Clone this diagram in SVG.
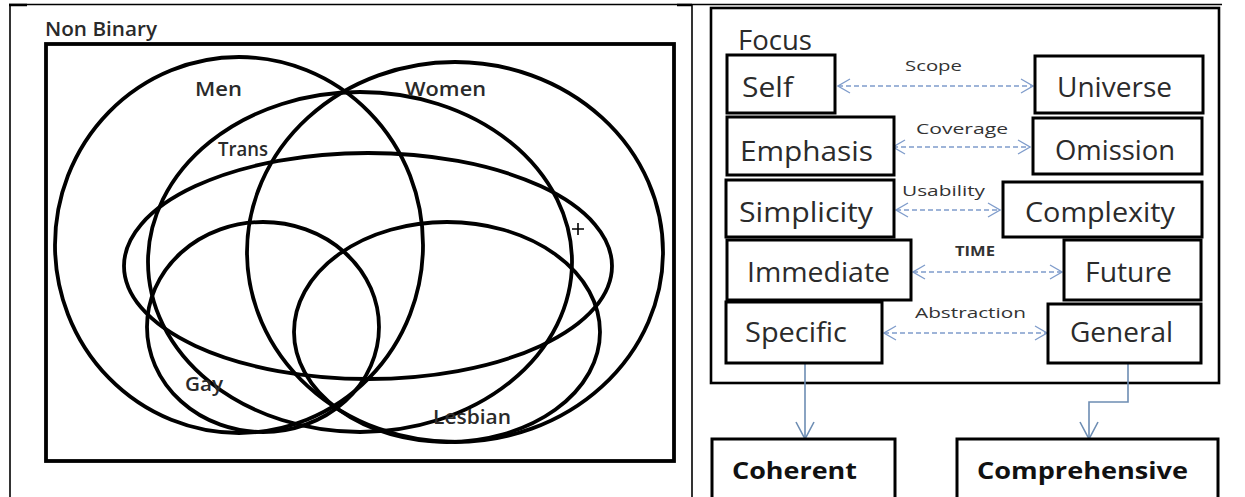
<svg xmlns="http://www.w3.org/2000/svg" width="1245" height="497" viewBox="0 0 1245 497">
<defs>
<style>
.tbl{stroke:#000;stroke-width:1.6;fill:none}
.venn{fill:none;stroke:#000;stroke-width:3.8}
.vl{font-family:"Open Sans","Liberation Sans",sans-serif;font-size:19px;font-weight:600;fill:#2a2a2a}
.box{fill:#fff;stroke:#000;stroke-width:3}
.bl{font-family:"Open Sans","Liberation Sans",sans-serif;font-size:28px;fill:#2b2b2b}
.bb{font-family:"Open Sans","Liberation Sans",sans-serif;font-size:24px;font-weight:bold;fill:#111}
.al{font-family:"Open Sans","Liberation Sans",sans-serif;font-size:15px;fill:#333}
.dash{stroke:#7f9ccb;stroke-width:1.3;stroke-dasharray:5 3;fill:none}
.solid{stroke:#6d8db3;stroke-width:1.6;fill:none}
</style>
<marker id="oa" viewBox="0 0 14 16" refX="13" refY="8" markerWidth="14" markerHeight="16" markerUnits="userSpaceOnUse" orient="auto-start-reverse">
<path d="M1,1 L13,8 L1,15" fill="none" stroke="#7f9ccb" stroke-width="1.3"/>
</marker>
<marker id="sa" viewBox="0 0 20 20" refX="18" refY="10" markerWidth="20" markerHeight="20" markerUnits="userSpaceOnUse" orient="auto">
<path d="M1,1 L18,10 L1,19" fill="none" stroke="#6d8db3" stroke-width="1.6"/>
</marker>
</defs>
<g id="table">
<line class="tbl" x1="9" y1="4.5" x2="1222" y2="4.5"/>
<line class="tbl" x1="10" y1="4" x2="10" y2="497"/>
<line class="tbl" x1="692" y1="4" x2="692" y2="497"/>
<line stroke="#000" stroke-width="2.5" x1="9" y1="5" x2="27" y2="5"/>
<line stroke="#000" stroke-width="2.5" x1="677" y1="5" x2="692" y2="5"/>
</g>
<g id="venn">
<rect x="46" y="44" width="628" height="417" fill="none" stroke="#000" stroke-width="3.8"/>
<text class="vl" x="45" y="36" font-weight="bold" textLength="112" lengthAdjust="spacingAndGlyphs">Non Binary</text>
<ellipse id="men" class="venn" cx="239" cy="245" rx="184" ry="188"/>
<ellipse id="women" class="venn" cx="455" cy="252" rx="208" ry="190"/>
<ellipse id="trans" class="venn" cx="360" cy="262" rx="212" ry="170"/>
<ellipse id="plus" class="venn" cx="368" cy="266" rx="244" ry="113"/>
<ellipse id="gay" class="venn" cx="263" cy="327" rx="116" ry="105"/>
<ellipse id="lesbian" class="venn" cx="447" cy="332" rx="153" ry="110"/>
<text class="vl" x="195" y="96" textLength="47" lengthAdjust="spacingAndGlyphs">Men</text>
<text class="vl" x="405" y="96" textLength="81" lengthAdjust="spacingAndGlyphs">Women</text>
<text class="vl" x="218" y="156" font-size="18" textLength="50" lengthAdjust="spacingAndGlyphs">Trans</text>
<text class="vl" x="185" y="391" font-size="18" textLength="38" lengthAdjust="spacingAndGlyphs">Gay</text>
<text class="vl" x="433" y="424" font-size="18" textLength="78" lengthAdjust="spacingAndGlyphs">Lesbian</text>
<path d="M572,229 H584 M578,223 V235" stroke="#000" stroke-width="1.6" fill="none"/>
</g>
<g id="focus">
<rect x="711" y="8" width="508" height="375" fill="none" stroke="#000" stroke-width="2.6"/>
<text class="bl" x="738" y="50" font-size="23" textLength="74" lengthAdjust="spacingAndGlyphs">Focus</text>
</g>
<g id="connectors">
<line class="dash" x1="838" y1="86" x2="1033" y2="86" marker-start="url(#oa)" marker-end="url(#oa)"/>
<line class="dash" x1="893" y1="147" x2="1030" y2="147" marker-start="url(#oa)" marker-end="url(#oa)"/>
<line class="dash" x1="896" y1="210" x2="1000" y2="210" marker-start="url(#oa)" marker-end="url(#oa)"/>
<line class="dash" x1="913" y1="272" x2="1062" y2="272" marker-start="url(#oa)" marker-end="url(#oa)"/>
<line class="dash" x1="884" y1="333" x2="1047" y2="333" marker-start="url(#oa)" marker-end="url(#oa)"/>
<path class="solid" d="M805,364 V439" marker-end="url(#sa)"/>
<path class="solid" d="M1128,364 V402 H1089 V439" marker-end="url(#sa)"/>
<text class="al" x="905" y="71" textLength="57" lengthAdjust="spacingAndGlyphs">Scope</text>
<text class="al" x="916" y="134" textLength="92" lengthAdjust="spacingAndGlyphs">Coverage</text>
<text class="al" x="902" y="196" textLength="83" lengthAdjust="spacingAndGlyphs">Usability</text>
<text class="al" x="955" y="256" font-weight="bold" fill="#222" textLength="40" lengthAdjust="spacingAndGlyphs">TIME</text>
<text class="al" x="915" y="318" textLength="111" lengthAdjust="spacingAndGlyphs">Abstraction</text>
</g>
<g id="self"><rect class="box" x="727" y="55" width="108" height="58"/><text class="bl" x="742" y="97" textLength="51" lengthAdjust="spacingAndGlyphs">Self</text></g>
<g id="universe"><rect class="box" x="1035" y="56" width="168" height="57"/><text class="bl" x="1057" y="97" textLength="115" lengthAdjust="spacingAndGlyphs">Universe</text></g>
<g id="emphasis"><rect class="box" x="727" y="117" width="167" height="58"/><text class="bl" x="740" y="161" textLength="133" lengthAdjust="spacingAndGlyphs">Emphasis</text></g>
<g id="omission"><rect class="box" x="1033" y="118" width="169" height="56"/><text class="bl" x="1055" y="160" textLength="120" lengthAdjust="spacingAndGlyphs">Omission</text></g>
<g id="simplicity"><rect class="box" x="726" y="180" width="168" height="57"/><text class="bl" x="739" y="222" textLength="134" lengthAdjust="spacingAndGlyphs">Simplicity</text></g>
<g id="complexity"><rect class="box" x="1003" y="182" width="199" height="55"/><text class="bl" x="1025" y="222" textLength="150" lengthAdjust="spacingAndGlyphs">Complexity</text></g>
<g id="immediate"><rect class="box" x="727" y="240" width="184" height="60"/><text class="bl" x="747" y="282" textLength="143" lengthAdjust="spacingAndGlyphs">Immediate</text></g>
<g id="future"><rect class="box" x="1064" y="240" width="137" height="60"/><text class="bl" x="1085" y="282" textLength="87" lengthAdjust="spacingAndGlyphs">Future</text></g>
<g id="specific"><rect class="box" x="726" y="302" width="156" height="61"/><text class="bl" x="745" y="342" textLength="102" lengthAdjust="spacingAndGlyphs">Specific</text></g>
<g id="general"><rect class="box" x="1048" y="304" width="153" height="59"/><text class="bl" x="1070" y="342" textLength="103" lengthAdjust="spacingAndGlyphs">General</text></g>
<g id="coherent"><rect class="box" x="712" y="439" width="183" height="70" stroke-width="2.6"/><text class="bb" x="732" y="479" textLength="125" lengthAdjust="spacingAndGlyphs">Coherent</text></g>
<g id="comprehensive"><rect class="box" x="957" y="439" width="261" height="70" stroke-width="2.6"/><text class="bb" x="977" y="479" textLength="211" lengthAdjust="spacingAndGlyphs">Comprehensive</text></g>
</svg>
